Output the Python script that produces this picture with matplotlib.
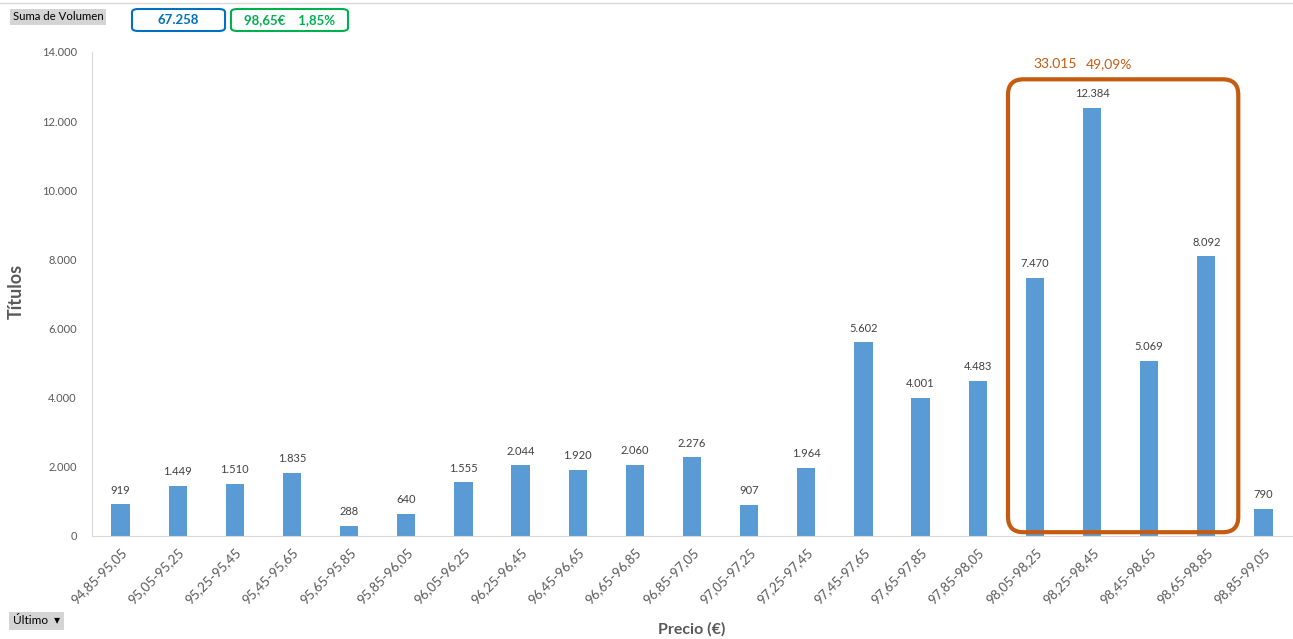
import numpy as np
import matplotlib
matplotlib.use("Agg")
import matplotlib.pyplot as plt
from matplotlib.patches import FancyBboxPatch

plt.rcParams['font.family'] = ['Lato', 'DejaVu Sans']

# Data
rangos = ["94,85-95,05", "95,05-95,25", "95,25-95,45", "95,45-95,65", "95,65-95,85",
          "95,85-96,05", "96,05-96,25", "96,25-96,45", "96,45-96,65", "96,65-96,85",
          "96,85-97,05", "97,05-97,25", "97,25-97,45", "97,45-97,65", "97,65-97,85",
          "97,85-98,05", "98,05-98,25", "98,25-98,45", "98,45-98,65", "98,65-98,85",
          "98,85-99,05"]
volumen = [919, 1449, 1510, 1835, 288, 640, 1555, 2044, 1920, 2060, 2276, 907,
           1964, 5602, 4001, 4483, 7470, 12384, 5069, 8092, 790]
y_ticks = [0, 2000, 4000, 6000, 8000, 10000, 12000, 14000]
zona_idx = [16, 17, 18, 19]
total_txt = "67.258"
ultimo_txt = "98,65€    1,85%"
zona_txt = ["33.015", "49,09%"]


def miles(v):
    return f"{v:,.0f}".replace(",", ".")


# 1. Figure
fig = plt.figure(figsize=(12.93, 6.39), dpi=100)
ax = fig.add_axes([92 / 1293, 1 - 536 / 639, 1200 / 1293, 484 / 639])

# 2. Bars
x = np.arange(len(rangos))
bar_color = "#5B9BD5"
ax.bar(x, volumen, 0.32, color=bar_color, zorder=2)
for xi, v in zip(x, volumen):
    ax.text(xi, v + 250, miles(v), ha="center", va="bottom", fontsize=8, color="#404040")

# 3. Axes
ax.set_xlim(-0.5, len(rangos) - 0.5)
ax.set_ylim(0, 14000)
ax.set_yticks(y_ticks)
ax.set_yticklabels([miles(t) for t in y_ticks])
ax.set_xticks(x)
ax.set_xticklabels(rangos, rotation=45, ha="right", rotation_mode="anchor")
ax.tick_params(axis="both", length=0, labelcolor="#595959")
ax.tick_params(axis="y", pad=11, labelsize=8)
ax.tick_params(axis="x", pad=7, labelsize=9.5)
for s in ["top", "right"]:
    ax.spines[s].set_visible(False)
ax.spines["left"].set_color("#D9D9D9")
ax.spines["bottom"].set_color("#D9D9D9")
ax.set_ylabel("Títulos", fontsize=13, fontweight="bold", color="#595959")
ax.yaxis.set_label_coords(-0.056, 0.505)
ax.set_xlabel("Precio (€)", fontsize=11.5, fontweight="bold", color="#595959")
ax.xaxis.set_label_coords(0.5, -0.178)

# 4. Highlight box around the main zone
orange = "#C55A11"
x0 = zona_idx[0] - 0.47
x1 = zona_idx[-1] + 0.56
box = FancyBboxPatch((x0, 110), x1 - x0, 13100,
                     boxstyle="round,pad=0,rounding_size=0.27",
                     mutation_aspect=1650, fill=False, edgecolor=orange,
                     linewidth=3, zorder=3, clip_on=False)
ax.add_patch(box)
ax.text(zona_idx[0] + 0.35, 13650, zona_txt[0], ha="center", va="center", fontsize=10, color=orange)
ax.text(zona_idx[1] + 0.3, 13650, zona_txt[1], ha="center", va="center", fontsize=10, color=orange)

# 5. Pivot-style header / footer widgets
fig.add_artist(plt.Line2D([0, 1], [1 - 3 / 639, 1 - 3 / 639], color="#D9D9D9", linewidth=1))
fig.text(13 / 1293, 1 - 17 / 639, "Suma de Volumen", fontsize=8.2, color="#000000", va="center",
         bbox=dict(boxstyle="square,pad=0.25", facecolor="#D4D4D4", edgecolor="none"))
fig.patches.append(FancyBboxPatch((132 / 1293, 1 - 31 / 639), 93 / 1293, 22 / 639,
                                  boxstyle="round,pad=0,rounding_size=0.005",
                                  transform=fig.transFigure, fill=False,
                                  edgecolor="#0070C0", linewidth=1.5))
fig.text(178.5 / 1293, 1 - 20 / 639, total_txt, ha="center", va="center",
         fontsize=9.5, fontweight="bold", color="#0070C0")
fig.patches.append(FancyBboxPatch((231 / 1293, 1 - 31 / 639), 117 / 1293, 22 / 639,
                                  boxstyle="round,pad=0,rounding_size=0.005",
                                  transform=fig.transFigure, fill=False,
                                  edgecolor="#00B050", linewidth=1.5))
fig.text(289.5 / 1293, 1 - 20 / 639, ultimo_txt, ha="center", va="center",
         fontsize=9.5, fontweight="bold", color="#00B050")
fig.text(13 / 1293, 1 - 621 / 639, "Último  ▾", fontsize=8.5, color="#000000", va="center",
         bbox=dict(boxstyle="square,pad=0.3", facecolor="#D4D4D4", edgecolor="none"))

plt.savefig("out.png", dpi=100)
